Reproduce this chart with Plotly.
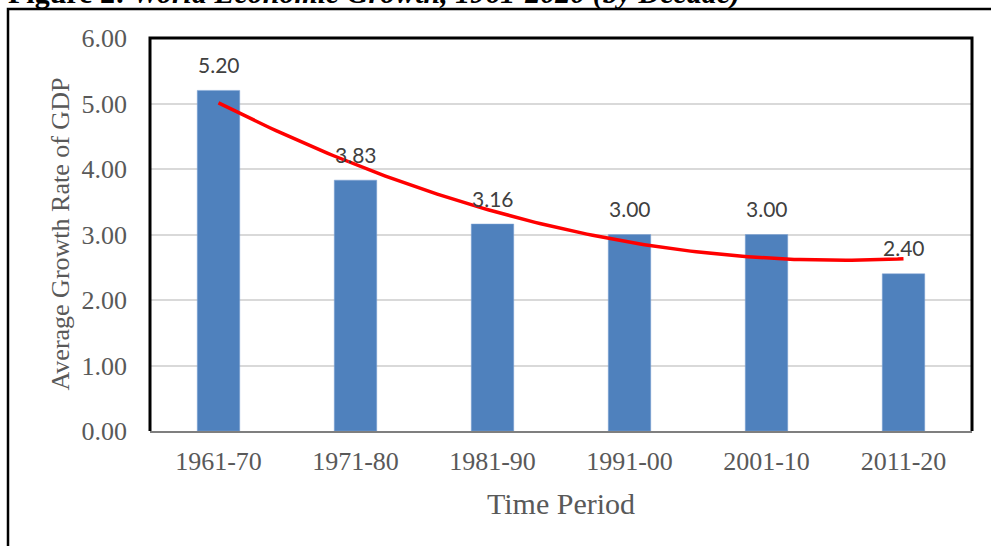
import numpy as np
import plotly.graph_objects as go

# ---- data ----
periods = ["1961-70", "1971-80", "1981-90", "1991-00", "2001-10", "2011-20"]
growth = [5.20, 3.83, 3.16, 3.00, 3.00, 2.40]
y_ticks = [0, 1, 2, 3, 4, 5, 6]
y_ticktext = ["0.00", "1.00", "2.00", "3.00", "4.00", "5.00", "6.00"]
title_bold = "Figure 2:"
title_italic = "World Economic Growth, 1961-2020 (by Decade)"
x_title = "Time Period"
y_title = "Average Growth Rate of GDP"

idx = list(range(len(periods)))

# polynomial (order 2) trendline, as in the source spreadsheet chart
coef = np.polyfit(idx, growth, 2)
tx = np.linspace(0, len(periods) - 1, 120)
ty = np.polyval(coef, tx)

# layout geometry
W, H = 991, 546
L, R, T, B = 150, 19, 38, 115
pw, ph = W - L - R, H - T - B

def px_x(px):
    return (px - L) / pw

def px_y(py):
    return (H - B - py) / ph

fig = go.Figure()
fig.add_trace(go.Bar(
    x=idx, y=growth, width=0.31,
    marker=dict(color="#4F81BD", line=dict(color="#7FA3D4", width=0.5)),
    showlegend=False, hoverinfo="skip",
))
fig.add_trace(go.Scatter(
    x=tx, y=ty, mode="lines",
    line=dict(color="#FF0000", width=3.5),
    showlegend=False, hoverinfo="skip",
))

annotations = []
for i, v in zip(idx, growth):
    annotations.append(dict(
        x=i, y=v, xref="x", yref="y", text=f"{v:.2f}", showarrow=False,
        yanchor="middle", yshift=26,
        font=dict(family="Lato", size=21, color="#404040"),
    ))

# axis titles
annotations.append(dict(
    x=0.5, y=px_y(503), xref="paper", yref="paper", text=x_title,
    showarrow=False, xanchor="center", yanchor="middle",
    font=dict(family="Liberation Serif", size=30, color="#595959"),
))
annotations.append(dict(
    x=px_x(60), y=0.5, xref="paper", yref="paper", text=y_title,
    showarrow=False, xanchor="center", yanchor="middle", textangle=-90,
    font=dict(family="Liberation Serif", size=26, color="#595959"),
))
# figure caption (cut by the top edge, as in the source)
annotations.append(dict(
    x=px_x(6), y=px_y(12), xref="paper", yref="paper",
    text=f"<b>{title_bold} <i>{title_italic}</i></b>",
    showarrow=False, xanchor="left", yanchor="bottom",
    font=dict(family="Liberation Serif", size=30, color="#000000"),
))

shapes = [
    # outer frame
    dict(type="rect", xref="paper", yref="paper",
         x0=px_x(8), x1=px_x(1000), y0=px_y(560), y1=px_y(9),
         line=dict(color="#000000", width=2.5), layer="above"),
    # plot-area frame (left, top, right)
    dict(type="path", xref="paper", yref="paper",
         path="M 0 0 L 0 1 L 1 1 L 1 0",
         line=dict(color="#000000", width=3), layer="above"),
]

fig.update_layout(
    width=W, height=H,
    margin=dict(l=L, r=R, t=T, b=B),
    paper_bgcolor="white", plot_bgcolor="white",
    bargap=0.69,
    annotations=annotations,
    shapes=shapes,
    xaxis=dict(
        range=[-0.5, len(periods) - 0.5],
        tickmode="array", tickvals=idx, ticktext=periods,
        showgrid=False, zeroline=False,
        showline=True, linecolor="#7F7F7F", linewidth=2,
        ticks="", ticklabelstandoff=6,
        tickfont=dict(family="Liberation Serif", size=26, color="#595959"),
    ),
    yaxis=dict(
        range=[0, 6],
        tickmode="array", tickvals=y_ticks, ticktext=y_ticktext,
        showgrid=True, gridcolor="#D9D9D9", gridwidth=1.5,
        zeroline=False, showline=False,
        ticks="", ticklabelstandoff=22,
        tickfont=dict(family="Liberation Serif", size=26, color="#595959"),
    ),
)

fig.write_html(
    "out.html",
    config={"displayModeBar": False},
    post_script="document.body.style.margin='0px';document.body.style.overflow='hidden';",
)
